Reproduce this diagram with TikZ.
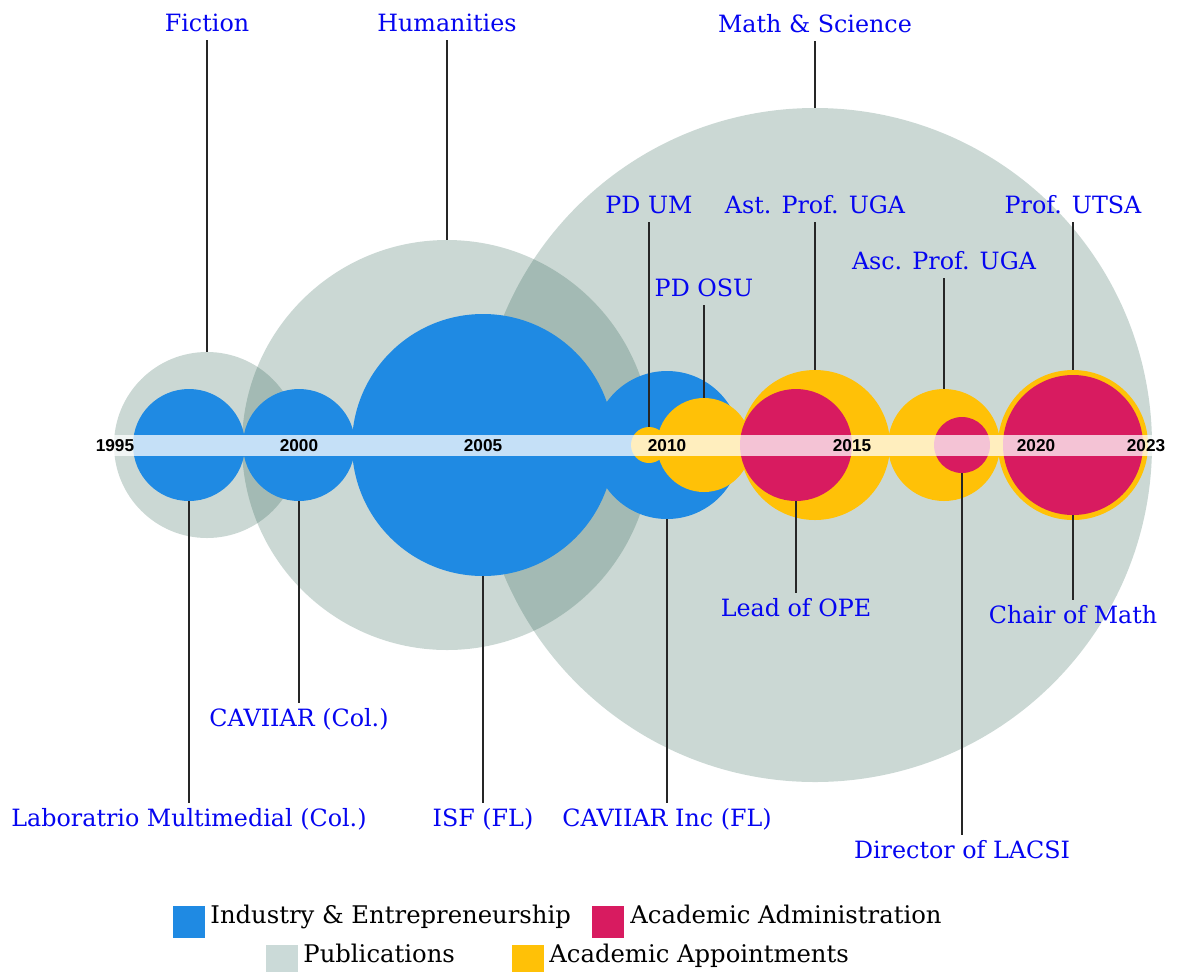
\documentclass[tikz,border=0pt]{standalone}
\usepackage{fontspec}
\setmainfont{DejaVu Serif}
\newfontfamily\yearfont{Liberation Sans}
\definecolor{indblue}{RGB}{31,138,227}
\definecolor{admred}{RGB}{216,27,96}
\definecolor{appyellow}{RGB}{255,193,7}
\definecolor{pubgray}{RGB}{30,87,70}
\definecolor{pubkey}{RGB}{203,218,216}
\definecolor{tagblue}{RGB}{5,5,240}

\begin{document}
\begin{tikzpicture}[x=0.5pt,y=-0.5pt,
    bubble/.style={circle, inner sep=0pt, minimum size=#1*1pt},
    pub/.style={bubble=#1, fill=pubgray, fill opacity=0.23},
    ind/.style={bubble=#1, fill=indblue},
    app/.style={bubble=#1, fill=appyellow},
    adm/.style={bubble=#1, fill=admred},
    tag/.style={text=tagblue, font=\fontsize{11.9}{13}\selectfont, inner sep=0pt, outer sep=4.5pt, text height=0.73em, text depth=0pt},
    stem/.style={draw=black!85, line width=0.6pt},
    yr/.style={font=\yearfont\bfseries\fontsize{8.6}{10}\selectfont, inner sep=0pt},
    key/.style={minimum size=16pt, inner sep=0pt, fill=#1},
    keytext/.style={font=\fontsize{12.15}{14}\selectfont, anchor=base west, inner sep=0pt}]
   \useasboundingbox (0,0) rectangle (1178,971);

   \node[pub=93]  (pFic) at (207,445) {};
   \node[pub=205] (pHum) at (447,445) {};
   \node[pub=337] (pSci) at (815,445) {};

   \node[ind=56]  (iLab) at (189,445) {};
   \node[ind=56]  (iCav) at (299,445) {};
   \node[ind=131] (iIsf) at (483,445) {};
   \node[ind=74]  (iInc) at (667,445) {};

   \node[app=18] (aUm)   at (649,445) {};
   \node[app=47] (aOsu)  at (704,445) {};
   \node[app=75] (aAst)  at (815,445) {};
   \node[app=56] (aAsc)  at (944,445) {};
   \node[app=75] (aUtsa) at (1073,445) {};

   \node[adm=56] (dOpe)   at (796,445) {};
   \node[adm=28] (dLacsi) at (962,445) {};
   \node[adm=70] (dChair) at (1073,445) {};

   \fill[white, opacity=0.74] (112,435) rectangle (1152,456);
   \foreach \yy/\xx in {1995/115,2000/299,2005/483,2010/667,2015/852,2020/1036,2023/1146}
      \node[yr] (y\yy) at (\xx,446) {\yy};

   \node[tag, anchor=south] (tFic)  at (207,40)  {Fiction};
   \node[tag, anchor=south] (tHum)  at (447,40)  {Humanities};
   \node[tag, anchor=south] (tSci)  at (815,41)  {Math \& Science};
   \node[tag, anchor=south] (tUm)   at (649,222) {PD UM};
   \node[tag, anchor=south] (tAst)  at (815,222) {Ast. Prof. UGA};
   \node[tag, anchor=south] (tUtsa) at (1073,222) {Prof. UTSA};
   \node[tag, anchor=south] (tAsc)  at (944,278) {Asc. Prof. UGA};
   \node[tag, anchor=south] (tOsu)  at (704,305) {PD OSU};

   \node[tag, anchor=north] (tOpe)   at (796,593)  {Lead of OPE};
   \node[tag, anchor=north] (tChair) at (1073,600) {Chair of Math};
   \node[tag, anchor=north] (tCav)   at (299,703)  {CAVIIAR (Col.)};
   \node[tag, anchor=north] (tLab)   at (189,803)  {Laboratrio Multimedial (Col.)};
   \node[tag, anchor=north] (tIsf)   at (483,803)  {ISF (FL)};
   \node[tag, anchor=north] (tInc)   at (667,803)  {CAVIIAR Inc (FL)};
   \node[tag, anchor=north] (tLacsi) at (962,835)  {Director of LACSI};

   \draw[stem] (tFic) to (pFic.north);
   \draw[stem] (tHum) to (pHum.north);
   \draw[stem] (tSci) to (pSci.north);
   \draw[stem] (tUm) to (aUm.north);
   \draw[stem] (tAst) to (aAst.north);
   \draw[stem] (tUtsa) to (aUtsa.north);
   \draw[stem] (tAsc) to (aAsc.north);
   \draw[stem] (tOsu) to (aOsu.north);
   \draw[stem] (dOpe.south) to (tOpe);
   \draw[stem] (dChair.south) to (tChair);
   \draw[stem] (iCav.south) to (tCav);
   \draw[stem] (iLab.south) to (tLab);
   \draw[stem] (iIsf.south) to (tIsf);
   \draw[stem] (iInc.south) to (tInc);
   \draw[stem] (dLacsi.south) to (tLacsi);

   \node[key=indblue]   (kInd) at (189,922) {};
   \node[key=admred]    (kAdm) at (608,922) {};
   \node[key=pubkey]    (kPub) at (282,961) {};
   \node[key=appyellow] (kApp) at (528,961) {};
   \node[keytext] (lInd) at (210,923) {Industry \& Entrepreneurship};
   \node[keytext] (lAdm) at (630,923) {Academic Administration};
   \node[keytext] (lPub) at (303,962) {Publications};
   \node[keytext] (lApp) at (549,962) {Academic Appointments};
 \end{tikzpicture}
\end{document}
